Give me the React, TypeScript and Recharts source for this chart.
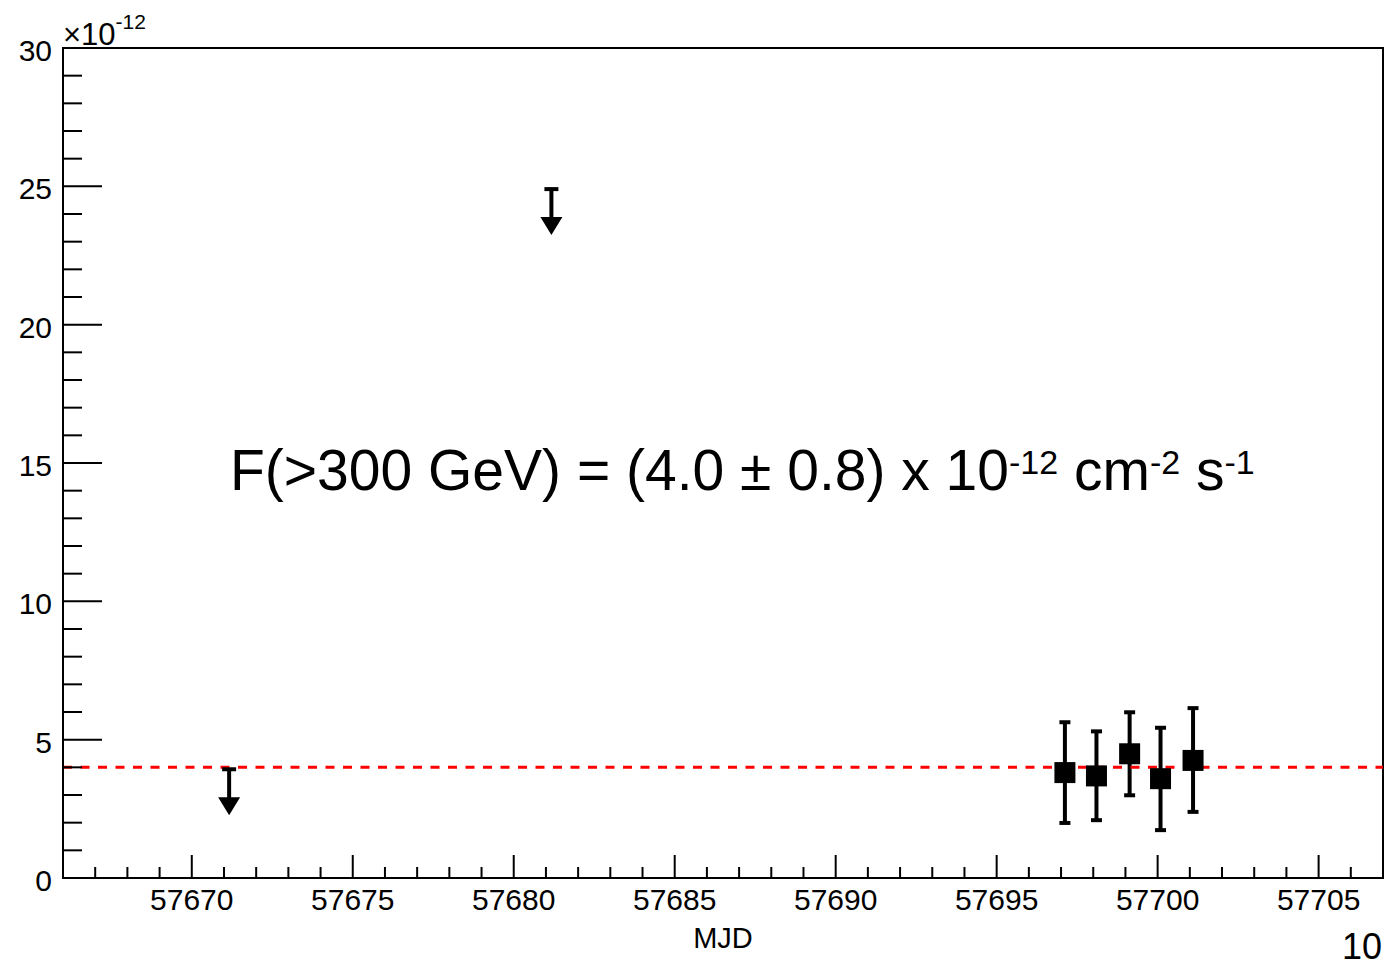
import { ErrorBar, ReferenceArea, ReferenceLine, Scatter, ScatterChart, XAxis, YAxis } from "recharts";

// MJD of the nightly flux points
const pointMjd = [57697.12, 57698.1, 57699.13, 57700.09, 57701.1];
// flux in units of 1e-12 cm^-2 s^-1
const pointFlux = [3.81, 3.69, 4.49, 3.59, 4.25];
const fluxHigh = [5.63, 5.3, 5.99, 5.43, 6.14];
const fluxLow = [1.99, 2.09, 2.99, 1.73, 2.39];

// upper limits
const ulMjd = [57671.16, 57681.17];
const ulFlux = [3.93, 24.9];

const meanFlux = 4.0;

const xMajorTicks = [57670, 57675, 57680, 57685, 57690, 57695, 57700, 57705];
const yMajorTicks = [0, 5, 10, 15, 20, 25, 30];
const xDomain = [57666, 57707];
const yDomain = [0, 30];

const xTicks: number[] = [];
for (let v = xDomain[0]; v <= xDomain[1]; v++) xTicks.push(v);
const yTicks: number[] = [];
for (let v = yDomain[0]; v <= yDomain[1]; v++) yTicks.push(v);

const points = pointMjd.map((x, i) => ({
  x,
  y: pointFlux[i],
  err: [pointFlux[i] - fluxLow[i], fluxHigh[i] - pointFlux[i]],
}));
const limits = ulMjd.map((x, i) => ({ x, y: ulFlux[i] }));

const FONT = "'Liberation Sans', Arial, Helvetica, sans-serif";

const XTick = (props: any) => {
  const { x, y, payload } = props;
  const major = xMajorTicks.includes(payload.value);
  return (
    <g>
      <line x1={x} x2={x} y1={y} y2={y - (major ? 23 : 11)} stroke="#000" strokeWidth={2} />
      {major && (
        <text x={x} y={y + 32} textAnchor="middle" fontSize={30} fontFamily={FONT} fill="#000">
          {payload.value}
        </text>
      )}
    </g>
  );
};

const YTick = (props: any) => {
  const { x, y, payload } = props;
  const major = yMajorTicks.includes(payload.value);
  return (
    <g>
      <line x1={x} x2={x + (major ? 39 : 19)} y1={y} y2={y} stroke="#000" strokeWidth={2} />
      {major && (
        <text x={x - 11} y={y + 13} textAnchor="end" fontSize={30} fontFamily={FONT} fill="#000">
          {payload.value}
        </text>
      )}
    </g>
  );
};

const Square = (props: any) => {
  const { cx, cy } = props;
  return <rect x={cx - 10.5} y={cy - 10.5} width={21} height={21} fill="#000" />;
};

const UpperLimit = (props: any) => {
  const { cx, cy } = props;
  return (
    <g>
      <line x1={cx - 7} x2={cx + 7} y1={cy} y2={cy} stroke="#000" strokeWidth={4} />
      <line x1={cx} x2={cx} y1={cy} y2={cy + 30} stroke="#000" strokeWidth={4} />
      <polygon points={`${cx - 11},${cy + 28} ${cx + 11},${cy + 28} ${cx},${cy + 46}`} fill="#000" />
    </g>
  );
};

export default function App() {
  return (
    <div style={{ position: "absolute", left: 0, top: 0, width: 1385, height: 969, background: "#fff" }}>
      <ScatterChart width={1385} height={969} margin={{ top: 48, right: 2, bottom: 0, left: 0 }}>
        <XAxis
          type="number"
          dataKey="x"
          domain={xDomain}
          ticks={xTicks}
          interval={0}
          allowDataOverflow
          height={91}
          tickSize={0}
          tickMargin={0}
          tickLine={false}
          tick={<XTick />}
          axisLine={{ stroke: "#000", strokeWidth: 2 }}
          label={{
            value: "MJD",
            content: (p: any) => {
              const vb = p.viewBox;
              return (
                <text x={vb.x + vb.width / 2} y={vb.y + 70} textAnchor="middle" fontSize={29} fontFamily={FONT} fill="#000">
                  MJD
                </text>
              );
            },
          }}
        />
        <YAxis
          type="number"
          dataKey="y"
          domain={yDomain}
          ticks={yTicks}
          interval={0}
          allowDataOverflow
          width={63}
          tickSize={0}
          tickMargin={0}
          tickLine={false}
          tick={<YTick />}
          axisLine={{ stroke: "#000", strokeWidth: 2 }}
        />
        <ReferenceArea
          x1={xDomain[0]}
          x2={xDomain[1]}
          y1={yDomain[0]}
          y2={yDomain[1]}
          fill="none"
          fillOpacity={0}
          stroke="#000"
          strokeWidth={2}
          ifOverflow="visible"
        />
        <Scatter data={points} shape={<Square />} isAnimationActive={false}>
          <ErrorBar dataKey="err" direction="y" width={5.5} stroke="#000" strokeWidth={4} isAnimationActive={false} />
        </Scatter>
        <Scatter data={limits} shape={<UpperLimit />} isAnimationActive={false} />
        <ReferenceLine y={meanFlux} stroke="#ff0000" strokeWidth={3} strokeDasharray="9 8.5" ifOverflow="visible" />
      </ScatterChart>
      <svg
        width={1385}
        height={969}
        style={{ position: "absolute", left: 0, top: 0, pointerEvents: "none" }}
      >
        <text x={63} y={45} fontSize={31} fontFamily={FONT} fill="#000">
          ×10
          <tspan dy={-16} fontSize={21}>-12</tspan>
        </text>
        <text x={230} y={490} fontSize={57} fontFamily={FONT} fill="#000">
          F(&gt;300 GeV) = (4.0 ± 0.8) x 10
          <tspan dy={-16} fontSize={34}>-12</tspan>
          <tspan dy={16}> cm</tspan>
          <tspan dy={-16} fontSize={34}>-2</tspan>
          <tspan dy={16}> s</tspan>
          <tspan dy={-16} fontSize={34}>-1</tspan>
        </text>
        <text x={1382} y={959} textAnchor="end" fontSize={36} fontFamily={FONT} fill="#000">
          10
        </text>
      </svg>
    </div>
  );
}
